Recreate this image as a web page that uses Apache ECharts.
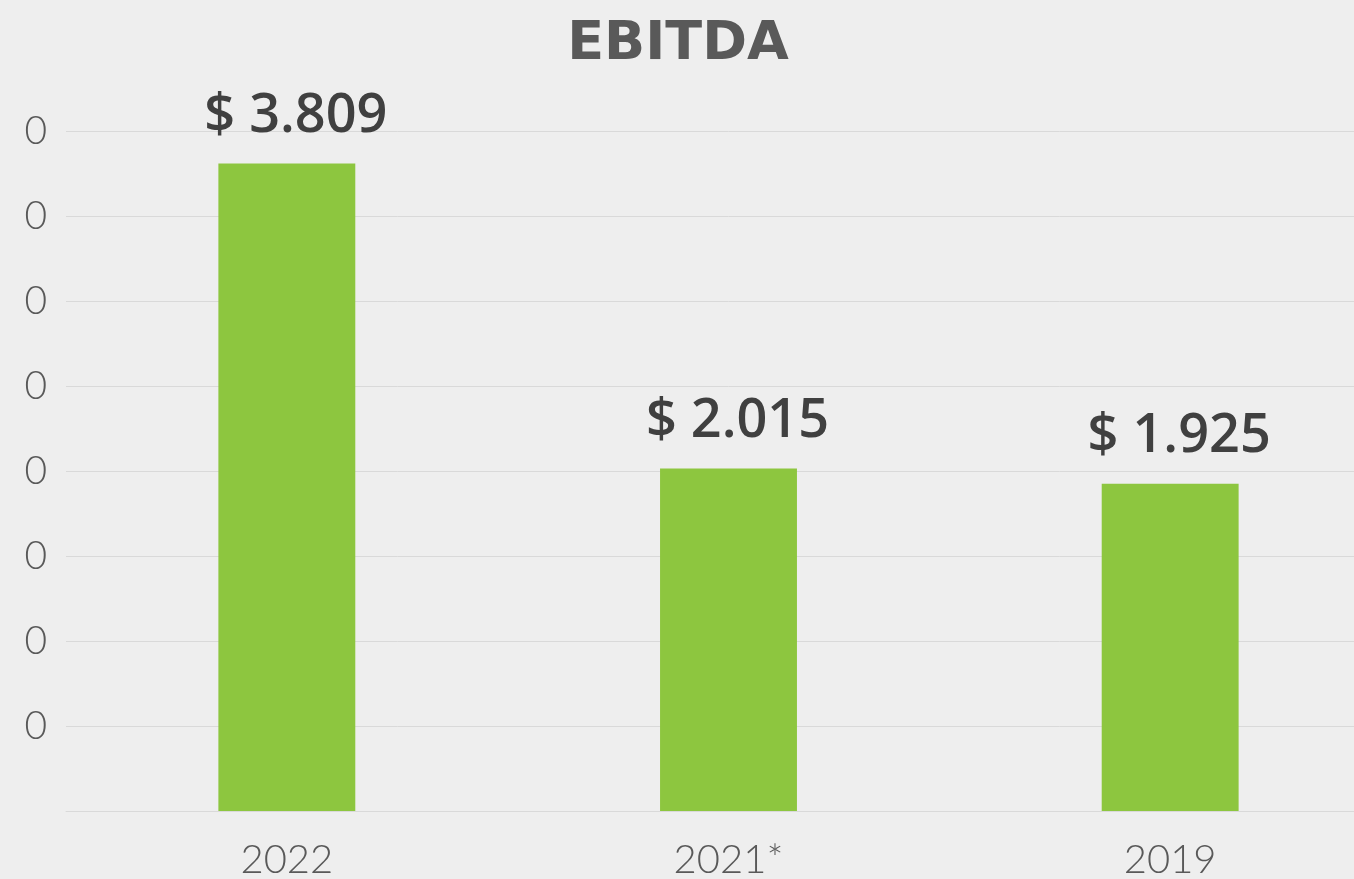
<!DOCTYPE html>
<html>
<head>
<meta charset="utf-8">
<script src="https://cdn.jsdelivr.net/npm/echarts@6/dist/echarts.min.js"></script>
<style>
html,body{margin:0;padding:0;background:#eeeeee;width:1354px;height:879px;overflow:hidden;position:relative;}
#chart{position:absolute;left:23px;top:0;width:1368px;height:879px;}
</style>
</head>
<body>
<div id="chart"></div>
<script>
const titleText = 'EBITDA';
const categories = ['2022', '2021*', '2019'];
const ebitda = [3.809, 2.015, 1.925];
const yTickLabels = ['', '$ 500', '$ 1.000', '$ 1.500', '$ 2.000', '$ 2.500', '$ 3.000', '$ 3.500', '$ 4.000'];

const chart = echarts.init(document.getElementById('chart'), null, {renderer: 'canvas'});
chart.setOption({
  backgroundColor: '#eeeeee',
  animation: false,
  title: {
    text: titleText,
    left: 650, textAlign: 'center', top: 13,
    textStyle: {fontFamily: 'DejaVu Sans', fontWeight: 'bold', fontSize: 54, color: '#595959'}
  },
  grid: {left: 43, right: 0, top: 131, bottom: 68, containLabel: false, outerBoundsMode: 'none'},
  xAxis: {
    type: 'category',
    data: categories,
    axisTick: {show: false},
    axisLine: {lineStyle: {color: '#d9d9d9', width: 1}},
    axisLabel: {margin: 29, fontFamily: 'Lato', fontWeight: 300, fontSize: 40, color: '#595959'}
  },
  yAxis: {
    type: 'value',
    min: 0, max: 4, interval: 0.5,
    axisLine: {show: false},
    axisTick: {show: false},
    splitLine: {lineStyle: {color: '#d9d9d9', width: 1}},
    axisLabel: {
      margin: 19,
      fontFamily: 'Lato', fontWeight: 300, fontSize: 39, color: '#595959',
      formatter: function (v) { return yTickLabels[Math.round(v / 0.5)] || ''; }
    }
  },
  series: [{
    type: 'bar',
    data: ebitda,
    barWidth: '31%',
    itemStyle: {color: '#8dc63f'},
    label: {
      show: true, position: 'top', distance: 20, offset: [9, 0],
      fontFamily: 'Open Sans', fontWeight: 600, fontSize: 54, color: '#404040',
      formatter: function (p) { return '$ ' + p.value.toFixed(3); }
    }
  }]
});
</script>
</body>
</html>
